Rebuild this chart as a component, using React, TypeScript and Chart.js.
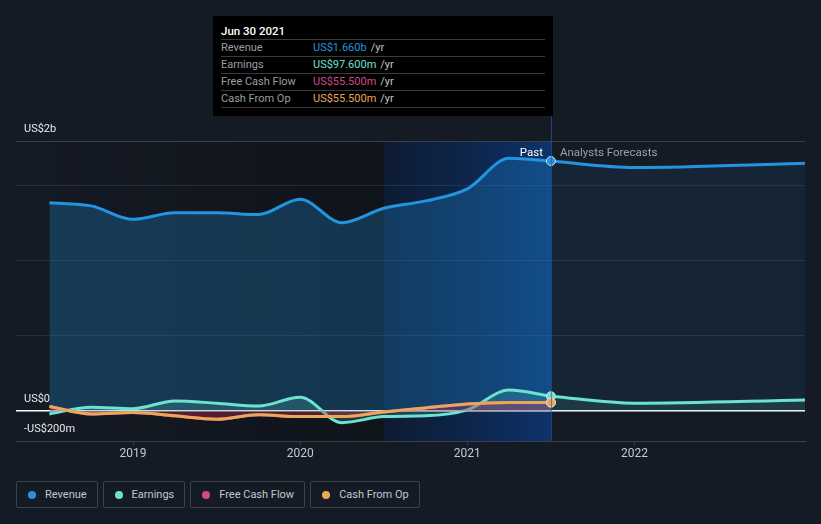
import React, { useEffect, useRef } from "react";
import { Chart, registerables } from "chart.js";

Chart.register(...registerables);

// ---- data (US$ millions, x in decimal years) ----
const pastYears = [2018.5, 2018.75, 2019, 2019.25, 2019.5, 2019.75, 2020, 2020.25, 2020.5, 2020.75, 2021, 2021.25, 2021.5];
const revenuePast = [1383, 1362, 1273, 1317, 1317, 1304, 1406, 1250, 1346, 1395, 1475, 1678, 1660];
const earningsPast = [-20, 25, 15, 66, 51, 33, 91, -78, -38, -33, 7, 139, 97.6];
const freeCashFlowPast = [29, -20, -11, -33, -55, -25, -38, -38, -7, 20, 46, 55, 55.5];
const cashFromOpPast = [29, -20, -11, -33, -55, -25, -38, -38, -7, 20, 46, 55, 55.5];

const forecastYears = [2021.5, 2022, 2023.02];
const revenueForecast = [1660, 1617, 1645];
const earningsForecast = [97.6, 51, 73];

const xTicks = [2019, 2020, 2021, 2022];
const yGridValues = [-200, 0, 500, 1000, 1500, 1793];
const xMin = 2018.3;
const xMax = 2023.02;
const yMin = -200;
const yMax = 1793;
const pastStart = 2018.5;
const bandStart = 2020.5;
const nowX = 2021.5;

const legendItems = [
  { label: "Revenue", color: "#2394DF" },
  { label: "Earnings", color: "#6CE3CF" },
  { label: "Free Cash Flow", color: "#D4488B" },
  { label: "Cash From Op", color: "#EAA75A" },
];

const tooltipTitle = "Jun 30 2021";
const tooltipRows = [
  { label: "Revenue", value: "US$1.660b", color: "#2394DF" },
  { label: "Earnings", value: "US$97.600m", color: "#6CE3CF" },
  { label: "Free Cash Flow", value: "US$55.500m", color: "#D4488B" },
  { label: "Cash From Op", value: "US$55.500m", color: "#EAA75A" },
];

const BG = "#151b25";
const FONT = "Roboto, 'Noto Sans', sans-serif";

const pts = (xs: number[], ys: number[]) => xs.map((x, i) => ({ x, y: ys[i] }));

export default function App() {
  const ref = useRef<HTMLCanvasElement | null>(null);

  useEffect(() => {
    if (!ref.current) return;
    const lastIdx = pastYears.length - 1;
    const ptRadius = (ctx: any) => (ctx.dataIndex === lastIdx ? 4.5 : 0);

    const decor = {
      id: "decor",
      beforeDraw(chart: any) {
        const { ctx, chartArea, scales } = chart;
        const x = scales.x;
        ctx.save();
        ctx.fillStyle = BG;
        ctx.fillRect(0, 0, chart.width, chart.height);
        const top = chartArea.top;
        const h = chartArea.bottom - chartArea.top;
        const p0 = x.getPixelForValue(pastStart);
        const p1 = x.getPixelForValue(bandStart);
        const p2 = x.getPixelForValue(nowX);
        let g = ctx.createLinearGradient(p0, 0, p1, 0);
        g.addColorStop(0, "rgba(0,0,0,0.05)");
        g.addColorStop(1, "rgba(0,0,0,0.28)");
        ctx.fillStyle = g;
        ctx.fillRect(p0, top, p1 - p0, h);
        g = ctx.createLinearGradient(p1, 0, p2, 0);
        g.addColorStop(0, "rgba(8,28,60,0.6)");
        g.addColorStop(1, "rgba(12,55,120,0.85)");
        ctx.fillStyle = g;
        ctx.fillRect(p1, top, p2 - p1, h);
        ctx.restore();
      },
      afterDatasetsDraw(chart: any) {
        const { ctx, chartArea, scales } = chart;
        const x = scales.x;
        const y = scales.y;
        const p2 = x.getPixelForValue(nowX);
        ctx.save();
        ctx.strokeStyle = "rgba(40,90,160,0.7)";
        ctx.lineWidth = 1;
        ctx.beginPath();
        ctx.moveTo(p2 + 0.5, 116);
        ctx.lineTo(p2 + 0.5, chartArea.bottom);
        ctx.stroke();

        ctx.font = `11.5px ${FONT}`;
        ctx.textBaseline = "middle";
        ctx.fillStyle = "#ffffff";
        ctx.textAlign = "right";
        ctx.fillText("Past", p2 - 8, 153);
        ctx.fillStyle = "#9aa0a8";
        ctx.textAlign = "left";
        ctx.fillText("Analysts Forecasts", p2 + 9, 153);

        ctx.fillStyle = "#e6e8eb";
        ctx.font = `11px ${FONT}`;
        ctx.textAlign = "left";
        ctx.fillText("US$2b", 24, y.getPixelForValue(yMax) - 12);
        ctx.fillText("US$0", 24, y.getPixelForValue(0) - 12);
        ctx.fillText("-US$200m", 24, y.getPixelForValue(0) + 18);
        ctx.restore();
      },
    };

    const chart = new Chart(ref.current, {
      type: "line",
      data: {
        datasets: [
          {
            label: "Revenue",
            data: pts(pastYears, revenuePast),
            borderColor: "#2394DF",
            backgroundColor: "rgba(35,148,223,0.27)",
            fill: "origin",
            borderWidth: 3,
            cubicInterpolationMode: "monotone",
            pointRadius: ptRadius,
            pointBackgroundColor: "#2394DF",
            pointBorderColor: "#d8dde3",
            pointBorderWidth: 1,
            order: 4,
          },
          {
            label: "Revenue forecast",
            data: pts(forecastYears, revenueForecast),
            borderColor: "#2394DF",
            backgroundColor: "rgba(35,148,223,0.09)",
            fill: "origin",
            borderWidth: 3,
            cubicInterpolationMode: "monotone",
            pointRadius: 0,
            order: 5,
          },
          {
            label: "Earnings",
            data: pts(pastYears, earningsPast),
            borderColor: "#6CE3CF",
            backgroundColor: "rgba(108,227,207,0.18)",
            fill: "origin",
            borderWidth: 3,
            cubicInterpolationMode: "monotone",
            pointRadius: ptRadius,
            pointBackgroundColor: "#6CE3CF",
            pointBorderColor: "#d8dde3",
            pointBorderWidth: 1,
            order: 2,
          },
          {
            label: "Earnings forecast",
            data: pts(forecastYears, earningsForecast),
            borderColor: "#6CE3CF",
            backgroundColor: "rgba(108,227,207,0.1)",
            fill: "origin",
            borderWidth: 3,
            cubicInterpolationMode: "monotone",
            pointRadius: 0,
            order: 3,
          },
          {
            label: "Free Cash Flow",
            data: pts(pastYears, freeCashFlowPast),
            borderColor: "#D4488B",
            backgroundColor: "rgba(190,45,75,0.38)",
            fill: "origin",
            borderWidth: 3,
            cubicInterpolationMode: "monotone",
            pointRadius: ptRadius,
            pointBackgroundColor: "#D4488B",
            pointBorderColor: "#d8dde3",
            pointBorderWidth: 1,
            order: 1,
          },
          {
            label: "Cash From Op",
            data: pts(pastYears, cashFromOpPast),
            borderColor: "#EAA75A",
            backgroundColor: "transparent",
            fill: false,
            borderWidth: 3,
            cubicInterpolationMode: "monotone",
            pointRadius: ptRadius,
            pointBackgroundColor: "#EAA75A",
            pointBorderColor: "#d8dde3",
            pointBorderWidth: 1,
            order: 0,
          },
        ],
      },
      options: {
        responsive: false,
        animation: false,
        events: [],
        layout: { padding: { left: 16, right: 16, top: 141, bottom: 0 } },
        plugins: { legend: { display: false }, tooltip: { enabled: false } },
        scales: {
          x: {
            type: "linear",
            min: xMin,
            max: xMax,
            afterFit: (s: any) => {
              s.height = 29;
            },
            afterBuildTicks: (s: any) => {
              s.ticks = xTicks.map((v) => ({ value: v }));
            },
            ticks: {
              autoSkip: false,
              color: "#c6c9ce",
              font: { family: FONT, size: 12 },
              padding: 2,
              callback: (v: any) => String(v),
            },
            grid: { drawOnChartArea: false, drawTicks: true, tickLength: 4, color: "#3a404a" },
            border: { display: true, color: "#3a404a" },
          },
          y: {
            type: "linear",
            min: yMin,
            max: yMax,
            afterFit: (s: any) => {
              s.width = 0;
            },
            afterBuildTicks: (s: any) => {
              s.ticks = yGridValues.map((v) => ({ value: v }));
            },
            ticks: { display: false },
            border: { display: false },
            grid: {
              drawTicks: false,
              color: (c: any) => {
                const v = c.tick?.value;
                if (v === 0) return "#ffffff";
                if (v === yMax || v === yMin) return "#3a404a";
                return "rgba(120,140,170,0.18)";
              },
              lineWidth: (c: any) => (c.tick?.value === 0 ? 1.5 : 1),
            },
          },
        },
      },
      plugins: [decor],
    } as any);

    return () => chart.destroy();
  }, []);

  return (
    <div
      style={{
        position: "fixed",
        left: 0,
        top: 0,
        width: 821,
        height: 524,
        background: BG,
        fontFamily: FONT,
        overflow: "hidden",
      }}
    >
      <canvas ref={ref} width={821} height={470} style={{ position: "absolute", left: 0, top: 0, width: 821, height: 470 }} />
      <div
        style={{
          position: "absolute",
          left: 213,
          top: 16,
          width: 340,
          height: 100,
          background: "#000000",
          boxSizing: "border-box",
          padding: "7px 8px 0 8px",
        }}
      >
        <div style={{ color: "#ffffff", fontSize: 11.5, fontWeight: 500, height: 16, lineHeight: "16px", borderBottom: "1px solid #3a3a3a" }}>
          {tooltipTitle}
        </div>
        {tooltipRows.map((r) => (
          <div
            key={r.label}
            style={{
              display: "flex",
              height: 16,
              lineHeight: "16px",
              fontSize: 11,
              borderBottom: "1px solid #3a3a3a",
            }}
          >
            <span style={{ width: 92, color: "#9a9ea4" }}>{r.label}</span>
            <span style={{ color: r.color }}>{r.value}</span>
            <span style={{ color: "#c0c3c8", marginLeft: 4 }}>/yr</span>
          </div>
        ))}
      </div>
      <div style={{ position: "absolute", left: 16, top: 481, display: "flex", gap: 5 }}>
        {legendItems.map((it) => (
          <div
            key={it.label}
            style={{
              display: "flex",
              alignItems: "center",
              height: 27,
              boxSizing: "border-box",
              border: "1px solid #3c424c",
              borderRadius: 2,
              padding: "0 10px 0 11px",
              color: "#c3c7cd",
              fontSize: 11,
            }}
          >
            <span
              style={{
                width: 8,
                height: 8,
                borderRadius: "50%",
                background: it.color,
                marginRight: 9,
                display: "inline-block",
              }}
            />
            {it.label}
          </div>
        ))}
      </div>
    </div>
  );
}
